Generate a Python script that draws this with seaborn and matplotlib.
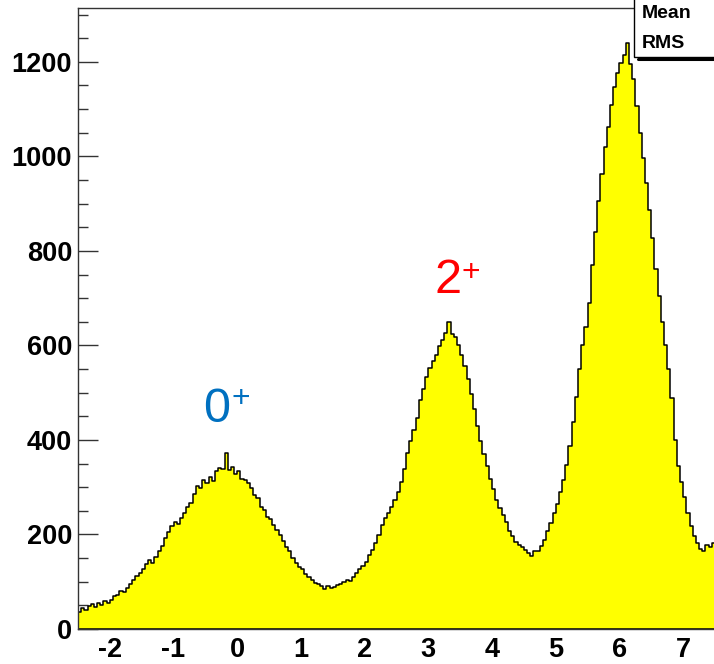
import numpy as np
import pandas as pd
import matplotlib
matplotlib.use("Agg")
import matplotlib.pyplot as plt
from matplotlib.patches import Rectangle
from matplotlib.ticker import MultipleLocator
import seaborn as sns

# ---- data (bin width 0.05 from -2.5 to 7.5) ----
x_min = -2.5
x_max = 7.5
bin_width = 0.05
counts = [
    36, 44, 40, 48, 52, 46, 54, 51, 60, 55,
    62, 70, 71, 80, 79, 86, 96, 104, 112, 118,
    126, 138, 146, 140, 152, 166, 176, 192, 206, 218,
    226, 222, 234, 246, 258, 266, 286, 302, 298, 316,
    308, 322, 314, 334, 340, 338, 372, 336, 342, 328,
    334, 318, 316, 308, 298, 284, 278, 258, 252, 238,
    232, 220, 210, 198, 186, 174, 164, 150, 140, 132,
    126, 116, 110, 104, 98, 96, 92, 84, 90, 86,
    88, 94, 96, 100, 104, 102, 110, 118, 126, 134,
    142, 156, 168, 182, 198, 220, 234, 246, 258, 274,
    290, 312, 338, 372, 398, 420, 446, 484, 508, 534,
    552, 566, 580, 598, 612, 626, 650, 624, 618, 600,
    580, 556, 528, 498, 466, 430, 398, 370, 344, 318,
    296, 274, 256, 242, 226, 208, 196, 184, 178, 174,
    168, 160, 154, 164, 166, 176, 188, 208, 224, 246,
    264, 290, 316, 348, 388, 438, 490, 550, 600, 640,
    690, 770, 840, 906, 962, 1020, 1062, 1108, 1146, 1176,
    1198, 1214, 1240, 1196, 1164, 1106, 1050, 996, 944, 886,
    828, 762, 704, 650, 600, 550, 488, 400, 344, 310,
    280, 246, 218, 196, 182, 170, 166, 178, 174, 182,
]
labels = ["0", "2"]
label_x = [-0.325, 3.312]
label_y = [439, 711]
plus_x = [0.063, 3.670]
plus_y = [470, 736]
label_colors = ["#0070c0", "#ff0000"]
y_max = 1315

n_bins = len(counts)
edges = x_min + bin_width * np.arange(n_bins + 1)
centers = (edges[:-1] + edges[1:]) / 2
df = pd.DataFrame({"x": centers, "w": counts})

sns.set_style("ticks")
plt.rcParams["font.family"] = ["Liberation Sans", "DejaVu Sans"]
plt.rcParams["axes.unicode_minus"] = False
plt.rcParams["text.color"] = "black"

fig = plt.figure(figsize=(7.14, 6.64), dpi=100)
W, H = 714, 664
ax_left, ax_right = 78 / W, 715 / W
ax_bottom, ax_top = (H - 629) / H, (H - 7.5) / H
ax = fig.add_axes([ax_left, ax_bottom, ax_right - ax_left, ax_top - ax_bottom])

sns.histplot(data=df, x="x", weights="w", bins=n_bins, binrange=(x_min, x_max),
             element="step", fill=True,
             color="#ffff00", alpha=1.0, edgecolor="black", linewidth=1.1, ax=ax)

ax.set_xlim(x_min, x_max)
ax.set_ylim(0, y_max)
ax.set_xlabel("")
ax.set_ylabel("")

ax.xaxis.set_major_locator(MultipleLocator(1))
ax.xaxis.set_minor_locator(MultipleLocator(0.2))
ax.yaxis.set_major_locator(MultipleLocator(200))
ax.yaxis.set_minor_locator(MultipleLocator(50))
ax.tick_params(axis="both", which="both", direction="in", color="#333333", width=1.0,
               top=False, right=False, labelcolor="black")
ax.tick_params(axis="y", which="major", length=14.4, pad=4.3, labelsize=19.5)
ax.tick_params(axis="y", which="minor", length=7.2)
ax.tick_params(axis="x", which="major", length=12.2, pad=6.0, labelsize=19.5)
ax.tick_params(axis="x", which="minor", length=6.1)
for lab in ax.get_xticklabels() + ax.get_yticklabels():
    lab.set_fontweight("bold")

for s in ["left", "top", "bottom"]:
    ax.spines[s].set_color("#333333")
    ax.spines[s].set_linewidth(1.0)
ax.spines["right"].set_visible(False)
ax.set_zorder(2)
ax.patch.set_alpha(0)

# peak labels
for lab, lx, ly, px, py, c in zip(labels, label_x, label_y, plus_x, plus_y, label_colors):
    ax.text(lx, ly, lab, color=c, fontsize=35, ha="center", va="baseline")
    ax.text(px, py, "+", color=c, fontsize=23, ha="center", va="baseline")

# stats box (cut off at right/top)
box = Rectangle((634 / W, (H - 57) / H), 0.2, 0.2, transform=fig.transFigure,
                facecolor="white", edgecolor="black", linewidth=1.0, zorder=5,
                clip_on=False)
fig.add_artist(box)
fig.add_artist(plt.Line2D([638 / W, 1.0], [(H - 58.5) / H, (H - 58.5) / H],
                          transform=fig.transFigure, color="black", linewidth=2.2,
                          zorder=6))
fig.text(642 / W, (H - 13) / H, "Mean", fontsize=14, fontweight="bold",
         color="black", ha="left", va="center", zorder=7)
fig.text(642 / W, (H - 43) / H, "RMS", fontsize=14, fontweight="bold",
         color="black", ha="left", va="center", zorder=7)

fig.savefig("out.png", dpi=100)
